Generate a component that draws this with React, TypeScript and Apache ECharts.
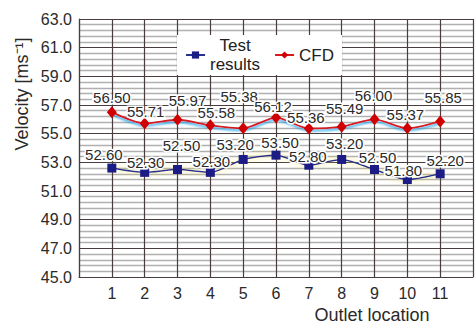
import React, { useEffect, useRef } from "react";
import * as echarts from "echarts";

const outlets = [1, 2, 3, 4, 5, 6, 7, 8, 9, 10, 11];
const testResults = [52.6, 52.3, 52.5, 52.3, 53.2, 53.5, 52.8, 53.2, 52.5, 51.8, 52.2];
const cfdResults = [56.5, 55.71, 55.97, 55.58, 55.38, 56.12, 55.36, 55.49, 56.0, 55.37, 55.85];
const seriesNames = ["Test results", "CFD"];
const yTicks = { min: 45, max: 63, step: 2 };
const xTicks = { min: 0, max: 12, step: 1 };

// label nudges (style only)
const testLabelShift = [[-8, 0], [1, 4], [4, -10], [1, 3], [-8, -1], [4, 1], [-1, 5], [3, -2], [3, 2], [-4, 5], [5, 1]];
const cfdLabelShift = [[0, 1], [1, 4], [10, -4], [6, 3], [-4, -16], [-3, 4], [-3, 4], [3, -3], [-1, -8], [-2, 2], [3, -8]];

const FONT = "'Liberation Sans', Arial, sans-serif";
const DARK = "#4a3d3d";

export default function App() {
  const ref = useRef<HTMLDivElement>(null);
  useEffect(() => {
    if (!ref.current) return;
    const chart = echarts.init(ref.current, null, { renderer: "svg" });
    const mk = (vals: number[], shifts: number[][]) =>
      vals.map((v, i) => ({ value: [outlets[i], v], label: { offset: shifts[i] } }));
    const labelBase = {
      show: true,
      position: "top",
      distance: 2,
      fontSize: 15,
      fontFamily: FONT,
      color: "#2a2a2a",
      textBorderColor: "#fff",
      textBorderWidth: 3,
      formatter: (p: any) => p.value[1].toFixed(2),
    };
    chart.setOption({
      animation: false,
      backgroundColor: "#fff",
      grid: { left: 79, right: -4, top: 19, bottom: 47 },
      xAxis: {
        type: "value",
        min: xTicks.min,
        max: xTicks.max,
        interval: xTicks.step,
        axisLine: { show: true, lineStyle: { color: DARK, width: 1.2 } },
        axisTick: { show: false },
        axisLabel: {
          fontSize: 16,
          fontFamily: FONT,
          color: "#2a2a2a",
          margin: 8,
          formatter: (v: number) => (v >= 1 && v <= 11 ? String(v) : ""),
        },
        splitLine: { show: true, lineStyle: { color: DARK, width: 1.2 } },
      },
      yAxis: {
        type: "value",
        min: yTicks.min,
        max: yTicks.max,
        interval: yTicks.step,
        axisLine: { show: true, lineStyle: { color: DARK, width: 1.2 } },
        axisTick: { show: false },
        axisLabel: {
          fontSize: 16,
          fontFamily: FONT,
          color: "#2a2a2a",
          margin: 7,
          formatter: (v: number) => v.toFixed(1),
        },
        splitLine: { show: true, lineStyle: { color: DARK, width: 1.2 } },
        minorTick: { show: false, splitNumber: 5 },
        minorSplitLine: { show: true, lineStyle: { color: "#b0b0b0", width: 1.3 } },
      },
      legend: {
        left: 177,
        top: 35,
        backgroundColor: "#fff",
        padding: [2, 8, 2, 8],
        itemWidth: 19,
        itemHeight: 9,
        itemGap: 14,
        data: seriesNames,
        formatter: (n: string) =>
          n === "Test results" ? "{c|Test}\n{c|results}" : "{c|CFD}",
        textStyle: {
          fontSize: 17,
          fontFamily: FONT,
          color: "#222",
          rich: { c: { align: "center", fontSize: 17, lineHeight: 19, fontFamily: FONT, color: "#222" } },
        },
      },
      graphic: [
        {
          type: "text",
          x: 22,
          y: 94,
          rotation: Math.PI / 2,
          style: {
            text: "Velocity [ms⁻¹]",
            fontSize: 18,
            fontFamily: FONT,
            fill: "#2a2a2a",
            align: "center",
            verticalAlign: "middle",
          },
        },
        {
          type: "text",
          x: 372,
          y: 315,
          style: {
            text: "Outlet location",
            fontSize: 18,
            fontFamily: FONT,
            fill: "#2a2a2a",
            align: "center",
            verticalAlign: "middle",
          },
        },
      ],
      series: [
        {
          name: seriesNames[0],
          type: "line",
          smooth: 0.25,
          data: mk(testResults, testLabelShift),
          symbol: "rect",
          symbolSize: 9,
          itemStyle: { color: "#1c1c86" },
          lineStyle: {
            color: "#26308f",
            width: 1.5,
            shadowColor: "rgba(245,225,70,1)",
            shadowBlur: 6,
          },
          label: labelBase,
          z: 3,
        },
        {
          name: seriesNames[1],
          type: "line",
          smooth: 0.25,
          data: mk(cfdResults, cfdLabelShift),
          symbol: "diamond",
          symbolSize: [10, 12],
          itemStyle: { color: "#d10000" },
          lineStyle: {
            color: "#d61a1a",
            width: 1.8,
            shadowColor: "#1fa3e8",
            shadowBlur: 2,
            shadowOffsetY: 2,
          },
          label: labelBase,
          z: 4,
        },
      ],
    });
    return () => chart.dispose();
  }, []);
  return (
    <div
      ref={ref}
      style={{ position: "absolute", left: 0, top: 0, width: 476, height: 324 }}
    />
  );
}
